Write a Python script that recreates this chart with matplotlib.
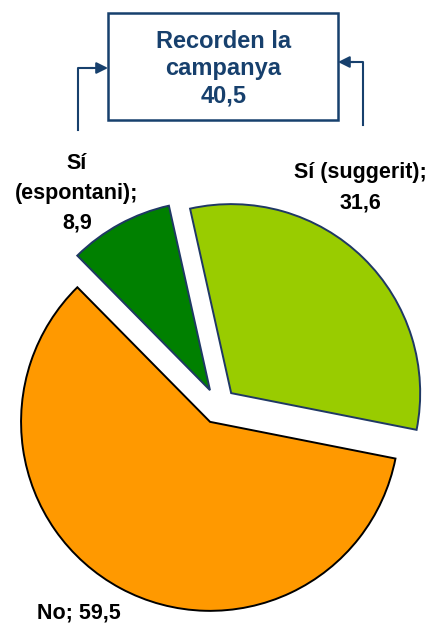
import matplotlib.pyplot as plt

# dades
labels = ["No", "Sí (suggerit)", "Sí (espontani)"]
values = [59.5, 31.6, 8.9]
colors = ["#FF9900", "#99CC00", "#008000"]
edges = ["#000000", "#1F3864", "#1F3864"]
total_text = "Recorden la\ncampanya\n40,5"

W, H = 437, 625
fig = plt.figure(figsize=(W / 100, H / 100), dpi=100)
ax = fig.add_axes([0, 0, 1, 1])

wedges, _ = ax.pie(values, colors=colors, startangle=134.6, counterclock=True,
                   radius=189, center=(218.6, 219), explode=[18, 18, 18],
                   frame=True)
for w, ec in zip(wedges, edges):
    w.set_edgecolor(ec)
    w.set_linewidth(1.4)
ax.set_xlim(0, W)
ax.set_ylim(0, H)
ax.set_aspect("equal")
ax.axis("off")

fnt = dict(family=["Liberation Sans", "DejaVu Sans"], fontweight="bold",
           fontsize=15.5, color="black")
ax.text(77, H - 153, "Sí\n(espontani);\n8,9", ha="center", va="top",
        linespacing=1.55, **fnt)
ax.text(360, H - 162, "Sí (suggerit);\n31,6", ha="center", va="top",
        linespacing=1.6, **fnt)
ax.text(37, H - 619, "No; 59,5", ha="left", va="baseline", **fnt)

# caixa
navy = "#17406D"
box = plt.Rectangle((108, H - 120), 230, 107, fill=False, ec=navy, lw=1.8)
ax.add_patch(box)
ax.text(223.5, H - 68.5, total_text, ha="center", va="center", color=navy,
        fontsize=17, fontweight="bold", linespacing=1.25,
        family=["Liberation Sans", "DejaVu Sans"])

# fletxes
ax.plot([78, 78, 92], [H - 130, H - 68, H - 68], color=navy, lw=1.5)
ax.annotate("", xy=(108, H - 68), xytext=(90, H - 68),
            arrowprops=dict(arrowstyle="-|>", color=navy, lw=1.5,
                            mutation_scale=17, shrinkA=0, shrinkB=0))
ax.plot([363, 363, 352], [H - 125, H - 62, H - 62], color=navy, lw=1.5)
ax.annotate("", xy=(338, H - 62), xytext=(354, H - 62),
            arrowprops=dict(arrowstyle="-|>", color=navy, lw=1.5,
                            mutation_scale=17, shrinkA=0, shrinkB=0))

fig.savefig("out.png", dpi=100)
